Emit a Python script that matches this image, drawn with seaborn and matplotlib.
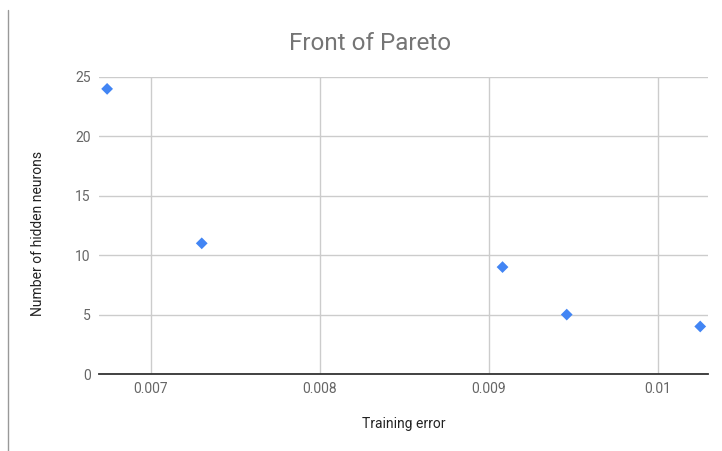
import pandas as pd
import matplotlib.pyplot as plt
import seaborn as sns
from matplotlib.lines import Line2D

# Pareto front points
training_error = [0.00674, 0.00730, 0.00908, 0.00946, 0.01025]
hidden_neurons = [24, 11, 9, 5, 4]

x_ticks = [0.007, 0.008, 0.009, 0.010]
x_tick_labels = ['0.007', '0.008', '0.009', '0.01']
y_ticks = [0, 5, 10, 15, 20, 25]

df = pd.DataFrame({'Training error': training_error,
                   'Number of hidden neurons': hidden_neurons})

sns.set_style('whitegrid')
plt.rcParams['font.family'] = ['Roboto', 'DejaVu Sans']

fig = plt.figure(figsize=(7.22, 4.51), dpi=100)
ax = fig.add_axes([99 / 722, 1 - 374 / 451, (708 - 99) / 722, (374 - 77) / 451])

sns.scatterplot(x='Training error', y='Number of hidden neurons', data=df,
                marker='D', s=36, color='#4285F4', edgecolor='none', ax=ax, zorder=3)

ax.set_xlim(0.006692, 0.010296)
ax.set_ylim(0, 25)
ax.set_xticks(x_ticks)
ax.set_xticklabels(x_tick_labels)
ax.set_yticks(y_ticks)
ax.tick_params(axis='both', length=0, labelsize=10, colors='#666666', pad=6)
ax.grid(True, color='#cccccc', linewidth=1)
for side in ['top', 'right', 'left']:
    ax.spines[side].set_visible(False)
ax.spines['bottom'].set_color('#333333')
ax.spines['bottom'].set_linewidth(1.3)
ax.spines['bottom'].set_zorder(4)

ax.set_xlabel('')
ax.set_ylabel('')
fig.text(404 / 722, 1 - 424 / 451, 'Training error', ha='center', va='center',
         fontsize=10, color='#222222')
fig.text(38 / 722, 1 - 233 / 451, 'Number of hidden neurons', ha='center', va='center',
         rotation=90, fontsize=10, color='#222222')
fig.text(370 / 722, 1 - 43 / 451, 'Front of Pareto', ha='center', va='center',
         fontsize=17.5, color='#757575')

# left border of the screenshot
fig.add_artist(Line2D([8 / 722, 8 / 722], [0, 1 - 10 / 451], transform=fig.transFigure,
                      color='#999999', linewidth=1))

plt.savefig('out.png', dpi=100)
